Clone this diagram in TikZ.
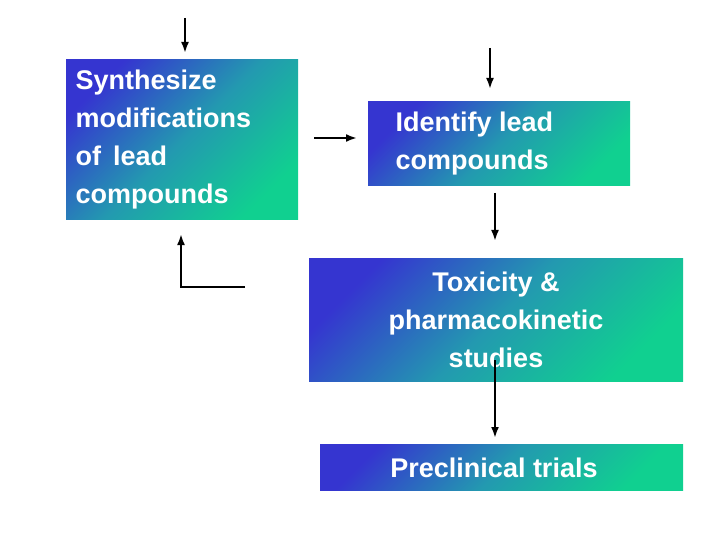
\documentclass[tikz,border=0pt]{standalone}
\usepackage{fontspec}
\setmainfont{Liberation Sans}
\usetikzlibrary{arrows.meta}
\begin{document}
\begin{tikzpicture}[x=1pt,y=-1pt,
  box/.style={draw=none,inner sep=0pt,shading=axis,top color=c1,bottom color=c2,middle color=cm,shading angle=45},
  lbl/.style={text=white,font=\fontsize{27}{38}\selectfont\bfseries,align=center},
  arr/.style={line width=2.6pt,-{Latex[length=11pt,width=8pt]}}]
\definecolor{c1}{HTML}{3535D0}
\definecolor{cm}{HTML}{2399B0}
\definecolor{c2}{HTML}{10D090}
\useasboundingbox (0,0) rectangle (720,540);
\fill[white] (0,0) rectangle (720,540);
\shade[box] (66,60) rectangle (298,220);
\shade[box] (368,102) rectangle (630,186);
\shade[box] (309,258) rectangle (683,381);
\shade[box] (320,444) rectangle (683,490);
\node[lbl,align=left,anchor=west] (b1) at (72,140) {Synthesize\\modifications\\of\, lead\\compounds};
\node[lbl,align=left,anchor=west] (b2) at (392,144) {Identify lead\\compounds};
\node[lbl] (b3) at (496,320) {Toxicity \&\\pharmacokinetic\\studies};
\node[lbl] (b4) at (494,468) {Preclinical trials};
\coordinate (a1) at (185,18); \coordinate (a1e) at (185,53);
\coordinate (a2) at (490,48); \coordinate (a2e) at (490,89);
\coordinate (a3) at (314,138); \coordinate (a3e) at (357,138);
\coordinate (a4) at (495,193); \coordinate (a4e) at (495,241);
\coordinate (a5) at (495,360); \coordinate (a5e) at (495,438);
\coordinate (a6) at (245,287); \coordinate (a6c) at (181,287); \coordinate (a6e) at (181,234);
\draw[arr] (a1) -- (a1e);
\draw[arr] (a2) -- (a2e);
\draw[arr] (a3) -- (a3e);
\draw[arr] (a4) -- (a4e);
\draw[arr] (a5) -- (a5e);
\draw[arr] (a6) -- (a6c) -- (a6e);
\end{tikzpicture}
\end{document}
